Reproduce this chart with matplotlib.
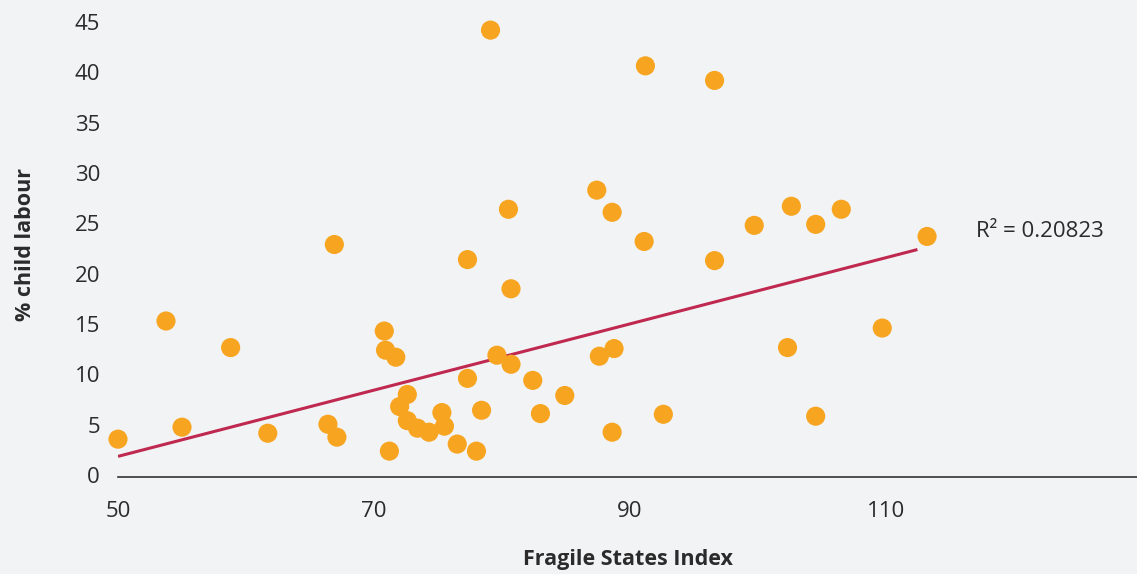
import matplotlib
matplotlib.use("Agg")
import matplotlib.pyplot as plt

# Fragile States Index vs % child labour.
fsi = [50.0, 53.75, 55.0, 58.8, 61.7, 66.4, 66.9, 67.1, 70.8, 70.9,
       71.7, 72.6, 72.0, 72.6, 73.4, 74.3, 75.3, 75.5, 71.2, 76.5,
       78.0, 77.3, 78.4, 77.3, 79.1, 79.6, 80.7, 80.5, 80.7, 82.4,
       83.0, 84.9, 87.4, 88.6, 87.6, 88.75, 88.6, 91.2, 91.1, 92.6,
       96.6, 96.6, 99.7, 102.6, 102.3, 104.5, 104.5, 106.5, 109.7, 113.2]
child_labour = [3.56, 15.3, 4.75, 12.66, 4.15, 5.04, 22.9, 3.76, 14.3, 12.4,
                11.7, 8.0, 6.8, 5.4, 4.65, 4.25, 6.2, 4.85, 2.37, 3.07,
                2.37, 9.6, 6.43, 21.4, 44.2, 11.9, 11.0, 26.4, 18.5, 9.4,
                6.1, 7.9, 28.3, 26.1, 11.8, 12.56, 4.25, 40.65, 23.2, 6.03,
                39.2, 21.3, 24.8, 26.7, 12.66, 24.9, 5.84, 26.4, 14.6, 23.7]

# Linear trendline end points as drawn in the reference
trend_x = [50.0, 112.45]
trend_y = [1.85, 22.4]
r2_label = "R\u00b2 = 0.20823"
x_ticks = [50, 70, 90, 110]
y_ticks = [0, 5, 10, 15, 20, 25, 30, 35, 40, 45]

BG = "#f2f3f5"
ORANGE = "#f7a520"
CRIMSON = "#c0294f"
TEXT = "#2b2b2b"

plt.rcParams["font.family"] = ["Open Sans", "DejaVu Sans"]

fig = plt.figure(figsize=(11.37, 5.74), dpi=100, facecolor=BG)
ax = fig.add_axes([118 / 1137, 97 / 574, 1 - 118 / 1137, 465 / 574])
ax.set_facecolor(BG)

ax.scatter(fsi, child_labour, s=190, color=ORANGE, edgecolors="none",
           zorder=3, clip_on=False)
ax.plot(trend_x, trend_y, color=CRIMSON, lw=2.2, zorder=2,
        solid_capstyle="butt")
ax.text(117.0, 24.2, r2_label, fontsize=16, color=TEXT, va="center",
        ha="left")

ax.set_xlim(50, 129.6)
ax.set_ylim(-0.2, 46)
ax.set_xticks(x_ticks)
ax.set_yticks(y_ticks)

for side in ("top", "right", "left"):
    ax.spines[side].set_visible(False)
ax.spines["bottom"].set_color("#333333")
ax.spines["bottom"].set_linewidth(1.2)
ax.tick_params(axis="both", length=0, labelsize=16, colors=TEXT)
ax.tick_params(axis="y", pad=13)
ax.tick_params(axis="x", pad=17)

ax.set_xlabel("Fragile States Index", fontsize=15.5, fontweight="bold",
              color=TEXT, labelpad=20)
ax.set_ylabel("% child labour", fontsize=15.5, fontweight="bold",
              color=TEXT, labelpad=28)

fig.savefig("out.png", dpi=100, facecolor=BG)
